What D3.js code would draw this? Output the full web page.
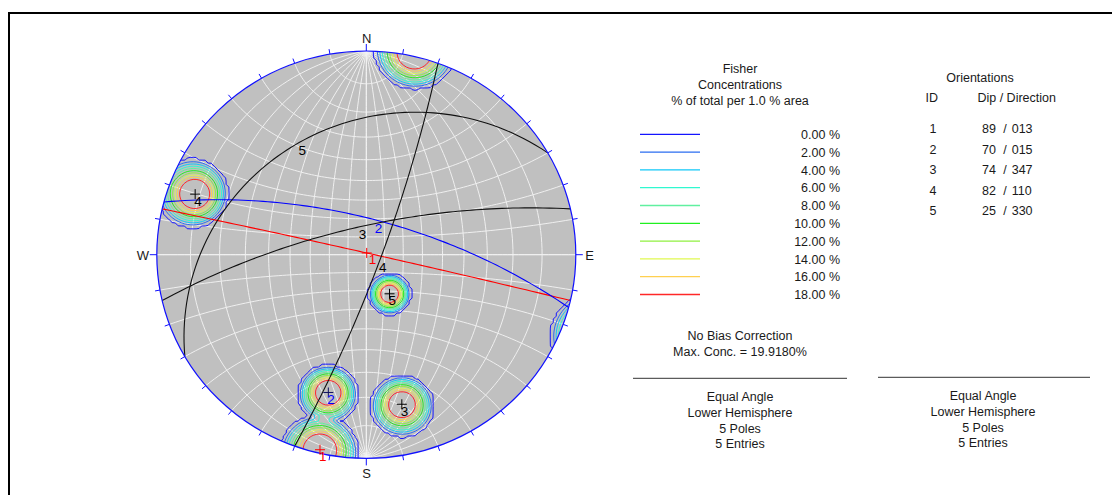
<!DOCTYPE html>
<html>
<head>
<meta charset="utf-8">
<script src="https://cdnjs.cloudflare.com/ajax/libs/d3/7.8.5/d3.min.js"></script>
<style>
body { margin: 0; background: #fff; }
text { font-family: "Liberation Sans", Arial, sans-serif; font-size: 12.5px; fill: #1a1a1a; }
</style>
</head>
<body>
<div id="chart"></div>
<script>
// planes (dip / dip direction)
var ids = [1, 2, 3, 4, 5]
var dips = [89, 70, 74, 82, 25]
var dipDirs = [13, 15, 347, 110, 330]
var dirLabels = ["013", "015", "347", "110", "330"]
var idColors = ["#ff0000", "#0000ff", "#000000", "#000000", "#000000"]

// contour legend
var levels = [0, 2, 4, 6, 8, 10, 12, 14, 16, 18]
var levelColors = ["#1414ff", "#2a6cf0", "#10c8f8", "#30f8d0", "#60f0a0",
    "#20f020", "#90f040", "#e0f850", "#ffd050", "#ff2828"]
var maxConc = "19.9180%"
var footer = ["Equal Angle", "Lower Hemisphere", "5 Poles", "5 Entries"]

// net
var netAngles = [10, 20, 30, 40, 50, 60, 70, 80]
var tickAz = d3.range(0, 360, 10)
var cardinals = [["N", 0], ["E", 90], ["S", 180], ["W", 270]]

var W = 1112, H = 495
var cx = 366.3, cy = 254.7, Rx = 209.5, Ry = 203.7
var rad = Math.PI / 180

var xS = d3.scaleLinear().domain([-1, 1]).range([cx - Rx, cx + Rx])
var yS = d3.scaleLinear().domain([-1, 1]).range([cy + Ry, cy - Ry])

var svg = d3.select("#chart")
    .append("svg")
    .attr("width", W)
    .attr("height", H)

// frame
svg.append("rect")
    .attr("x", 9).attr("y", 13)
    .attr("width", W + 10).attr("height", H + 10)
    .attr("fill", "none")
    .attr("stroke", "#000")
    .attr("stroke-width", 2)

// vector helpers (north, east, down)
function toVec(trend, plunge) {
    var t = trend * rad, p = plunge * rad
    return [Math.cos(p) * Math.cos(t), Math.cos(p) * Math.sin(t), Math.sin(p)]
}
function proj(v) {
    var d = Math.max(-1, Math.min(1, v[2]))
    var r = Math.tan(Math.acos(d) / 2)
    var tr = Math.atan2(v[1], v[0])
    return [xS(r * Math.sin(tr)), yS(r * Math.cos(tr))]
}
function planePts(dip, dir) {
    var s = toVec(dir - 90, 0), d = toVec(dir, dip)
    return d3.range(0, 181, 2).map(function (a) {
        var c = Math.cos(a * rad), n = Math.sin(a * rad)
        return proj([c * s[0] + n * d[0], c * s[1] + n * d[1], Math.max(0, c * s[2] + n * d[2])])
    })
}
function smallPts(phi, sign) {
    return d3.range(0, 181, 2).map(function (a) {
        var t = a * rad
        return proj([sign * Math.cos(phi * rad), Math.sin(phi * rad) * Math.cos(t), Math.max(0, Math.sin(phi * rad) * Math.sin(t))])
    })
}

var line = d3.line()

svg.append("clipPath").attr("id", "net")
    .append("ellipse")
    .attr("cx", cx).attr("cy", cy).attr("rx", Rx).attr("ry", Ry)

// background
svg.append("ellipse")
    .attr("cx", cx).attr("cy", cy).attr("rx", Rx).attr("ry", Ry)
    .attr("fill", "#c0c0c0")

// wulff grid
var grid = svg.append("g")
    .attr("clip-path", "url(#net)")
    .attr("fill", "none")
    .attr("stroke", "#f4f4f4")
    .attr("stroke-width", 0.9)

netAngles.concat([90]).forEach(function (a) {
    grid.append("path").attr("d", line(planePts(a, 90)))
    grid.append("path").attr("d", line(planePts(a, 270)))
    grid.append("path").attr("d", line(smallPts(a, 1)))
    grid.append("path").attr("d", line(smallPts(a, -1)))
})

// fisher density
var poleVecs = dips.map(function (d, i) { return toVec(dipDirs[i] + 180, 90 - d) })
var cell = 3
var gx0 = cx - Rx * 1.12, gy0 = cy - Ry * 1.12
var nx = Math.ceil(Rx * 2.24 / cell), ny = Math.ceil(Ry * 2.24 / cell)
var th0 = 4.0, th1 = 10.7
var values = new Array(nx * ny)
for (var j = 0; j < ny; j++) {
    for (var i = 0; i < nx; i++) {
        var u = xS.invert(gx0 + (i + 0.5) * cell)
        var v = yS.invert(gy0 + (j + 0.5) * cell)
        var al = 2 * Math.atan(Math.hypot(u, v))
        var tr = Math.atan2(u, v)
        var p = [Math.sin(al) * Math.cos(tr), Math.sin(al) * Math.sin(tr), Math.cos(al)]
        var sum = 0
        poleVecs.forEach(function (q) {
            var c = Math.abs(p[0] * q[0] + p[1] * q[1] + p[2] * q[2])
            var th = Math.acos(Math.min(1, c)) / rad
            sum += (100 / ids.length) * Math.max(0, Math.min(1, (th1 - th) / (th1 - th0)))
        })
        values[j * nx + i] = sum
    }
}

var thresholds = levels.map(function (l) { return l === 0 ? 0.05 : l })
var contours = d3.contours().size([nx, ny]).thresholds(thresholds)(values)
var cpath = d3.geoPath(d3.geoIdentity().scale(cell).translate([gx0, gy0]))

svg.append("g")
    .attr("clip-path", "url(#net)")
    .selectAll("path")
    .data(contours)
    .join("path")
    .attr("d", cpath)
    .attr("fill", "none")
    .attr("stroke", function (d) { return levelColors[thresholds.indexOf(d.value)] })
    .attr("stroke-width", 1)

// great circles
var gc = svg.append("g").attr("fill", "none").attr("stroke-width", 1.1)
dips.forEach(function (d, i) {
    gc.append("path")
        .attr("d", line(planePts(d, dipDirs[i])))
        .attr("stroke", idColors[i] === "#000000" ? "#111" : idColors[i])
})

// primitive
svg.append("ellipse")
    .attr("cx", cx).attr("cy", cy).attr("rx", Rx).attr("ry", Ry)
    .attr("fill", "none")
    .attr("stroke", "#1010ff")
    .attr("stroke-width", 1.2)

tickAz.forEach(function (a) {
    var len = a % 90 === 0 ? 7 : 5
    var sx = Math.sin(a * rad), sy = -Math.cos(a * rad)
    var x0 = xS(sx), y0 = yS(-sy)
    svg.append("line")
        .attr("x1", x0).attr("y1", y0)
        .attr("x2", x0 + sx * len).attr("y2", y0 + sy * len)
        .attr("stroke", "#1010ff")
        .attr("stroke-width", 1)
})

var cardPos = { N: [366.7, 42.7], E: [589.5, 259.6], S: [366.7, 478.3], W: [143, 259.6] }
cardinals.forEach(function (c) {
    svg.append("text")
        .text(c[0])
        .attr("x", cardPos[c[0]][0])
        .attr("y", cardPos[c[0]][1])
        .attr("text-anchor", "middle")
        .style("font-size", "13px")
})

// dip vector labels on planes
dips.forEach(function (d, i) {
    var pt = proj(toVec(dipDirs[i], d))
    if (i === 0) {
        svg.append("path")
            .attr("d", "M" + (pt[0] - 5) + "," + pt[1] + "h10M" + pt[0] + "," + (pt[1] - 5) + "v10")
            .attr("stroke", idColors[i])
        svg.append("text").text(ids[i])
            .attr("x", pt[0] + 2).attr("y", pt[1] + 11.5)
            .style("fill", idColors[i]).style("font-size", "13.5px")
    } else {
        svg.append("text").text(ids[i])
            .attr("x", pt[0] - 1).attr("y", pt[1] + 12.5)
            .style("fill", idColors[i]).style("font-size", "13.5px")
    }
})

// poles
poleVecs.forEach(function (q, i) {
    var pt = proj(q)
    svg.append("path")
        .attr("d", "M" + (pt[0] - 5) + "," + pt[1] + "h10M" + pt[0] + "," + (pt[1] - 5) + "v10")
        .attr("stroke", i === 1 ? "#101060" : idColors[i])
        .attr("stroke-width", 1)
    svg.append("text").text(ids[i])
        .attr("x", pt[0] - 1).attr("y", pt[1] + 11.5)
        .style("fill", idColors[i]).style("font-size", "13.5px")
})

// legend
var lx = 740
;["Fisher", "Concentrations", "% of total per 1.0 % area"].forEach(function (t, i) {
    svg.append("text").text(t)
        .attr("x", lx).attr("y", 72.7 + i * 16)
        .attr("text-anchor", "middle")
})

levels.forEach(function (l, i) {
    var y = 134.3 + i * 17.8
    svg.append("line")
        .attr("x1", 640).attr("x2", 700)
        .attr("y1", y).attr("y2", y)
        .attr("stroke", levelColors[i])
        .attr("stroke-width", 1.3)
    svg.append("text").text(d3.format(".2f")(l) + " %")
        .attr("x", 840).attr("y", y + 4.6)
        .attr("text-anchor", "end")
})

svg.append("text").text("No Bias Correction")
    .attr("x", lx).attr("y", 339.5).attr("text-anchor", "middle")
svg.append("text").text("Max. Conc. = " + maxConc)
    .attr("x", lx).attr("y", 355.7).attr("text-anchor", "middle")

svg.append("line")
    .attr("x1", 633).attr("x2", 847).attr("y1", 378.3).attr("y2", 378.3)
    .attr("stroke", "#333").attr("stroke-width", 1)
svg.append("line")
    .attr("x1", 878).attr("x2", 1090).attr("y1", 377.3).attr("y2", 377.3)
    .attr("stroke", "#333").attr("stroke-width", 1)

footer.forEach(function (t, i) {
    svg.append("text").text(t)
        .attr("x", lx).attr("y", 401 + i * 15.8).attr("text-anchor", "middle")
    svg.append("text").text(t)
        .attr("x", 983).attr("y", 400 + i * 15.8).attr("text-anchor", "middle")
})

// orientations table
svg.append("text").text("Orientations")
    .attr("x", 980).attr("y", 82).attr("text-anchor", "middle")
svg.append("text").text("ID")
    .attr("x", 931.7).attr("y", 102).attr("text-anchor", "middle")
svg.append("text").text("Dip / Direction")
    .attr("x", 1016.7).attr("y", 102).attr("text-anchor", "middle")

ids.forEach(function (id, i) {
    var y = 133.3 + i * 20.5
    svg.append("text").text(id)
        .attr("x", 933).attr("y", y).attr("text-anchor", "middle")
    svg.append("text").text(dips[i])
        .attr("x", 996).attr("y", y).attr("text-anchor", "end")
    svg.append("text").text("/")
        .attr("x", 1005).attr("y", y).attr("text-anchor", "middle")
    svg.append("text").text(dirLabels[i])
        .attr("x", 1011.7).attr("y", y)
})
</script>
</body>
</html>
